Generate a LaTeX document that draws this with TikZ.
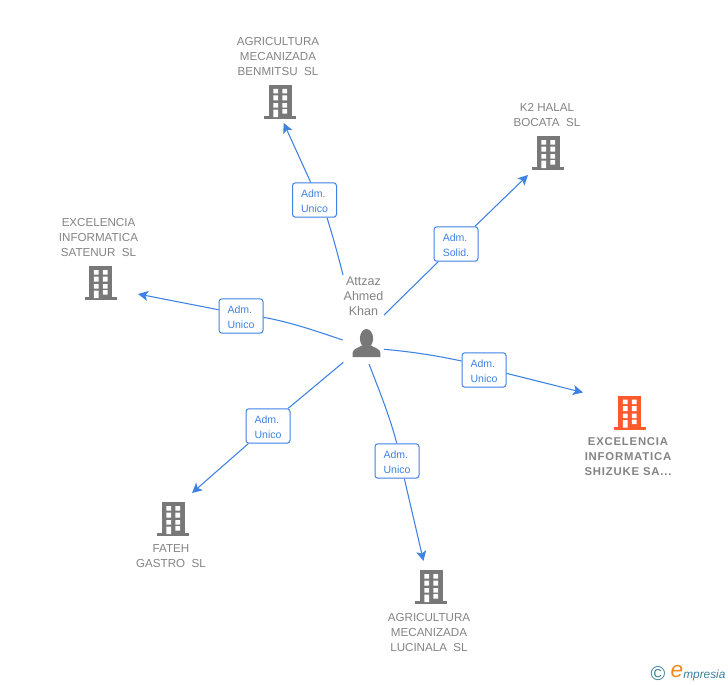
\documentclass[tikz,border=0pt]{standalone}
\usepackage{fontspec}
\setmainfont{Liberation Sans}
\usetikzlibrary{arrows.meta}
\definecolor{ico}{HTML}{787878}
\definecolor{txt}{HTML}{848484}
\definecolor{lnk}{HTML}{3E82E4}
\definecolor{org}{HTML}{FF5A2B}
\definecolor{logob}{HTML}{3F7F9A}
\definecolor{logoo}{HTML}{F08A1D}
\newcommand{\rolepush}{\rule{0pt}{7.2pt}}
\tikzset{
  x=0.75pt,y=-0.75pt,
  names/.style={font=\fontsize{8.7pt}{11.25pt}\selectfont,text=txt,align=center,inner sep=0pt},
  bold names/.style={names,font=\fontsize{8.5pt}{11.25pt}\selectfont\bfseries\addfontfeatures{LetterSpace=7}},
  person name/.style={names,font=\fontsize{9.4pt}{11.25pt}\selectfont},
  role/.style={draw=lnk,line width=0.75pt,rounded corners=2.2pt,fill=white,minimum width=33pt,minimum height=25.8pt,inner sep=0pt,
     font=\fontsize{7.9pt}{11.25pt}\selectfont,text=lnk,align=left},
  conn/.style={draw=lnk,line width=0.8pt},
  tipped/.style={conn,-{Stealth[length=7.5pt,width=7.5pt,inset=1.8pt]}},
  pics/tower/.style={code={
    \fill[#1] (-11.5,-16.5) rectangle (11.5,15.5);
    \fill[#1] (-16,14.5) rectangle (16,17.5) ;
    \fill[white] (-6.6,-12.5) rectangle (-1.8,-8)  (2.4,-12.5) rectangle (7.2,-8);
    \fill[white] (-6.6,-6) rectangle (-1.8,-1)  (2.4,-6) rectangle (7.2,-1);
    \fill[white] (-6.6,1.5) rectangle (-1.8,6)  (2.4,1.5) rectangle (7.2,6);
    \fill[white] (-6.6,8) rectangle (-1.8,15.5)  (2.4,7.5) rectangle (7.2,12);
  }}
}
\begin{document}
\begin{tikzpicture}
\useasboundingbox (0,0) rectangle (728,685);
\fill[white] (0,0) rectangle (728,685);

% company names
\node[names] (nb) at (278,57) {AGRICULTURA\\MECANIZADA\\BENMITSU\ \ SL};
\node[names] (nk) at (547,115.5) {K2 HALAL\\BOCATA\ \ SL};
\node[names] (ns) at (98.5,238) {EXCELENCIA\\INFORMATICA\\SATENUR\ \ SL};
\node[bold names] (nz) at (628,457) {EXCELENCIA\\INFORMATICA\\SHIZUKE SA...};
\node[names] (nf) at (171,556.5) {FATEH\\GASTRO\ \ SL};
\node[names] (nl) at (429,632) {AGRICULTURA\\MECANIZADA\\LUCINALA\ \ SL};
\node[person name] (np) at (363.5,296.5) {Attzaz\\Ahmed\\Khan};

% company icons
\pic at (280,101.5) {tower=ico};
\pic at (548,152.5) {tower=ico};
\pic at (100.5,282.5) {tower=ico};
\pic at (629.5,412) {tower=org};
\pic at (173,518.5) {tower=ico};
\pic at (431,586.5) {tower=ico};

% person icon
\fill[ico] (366.5,338.5) ellipse (6.6 and 9.5);
\fill[ico] (352.7,357) -- (352.7,352.5) .. controls (353,349) and (358,348) .. (362,345.5)
  -- (371,345.5) .. controls (375,348) and (380,349) .. (380.3,352.5) -- (380.3,357) -- cycle;

% role labels
\node[role] (lb) at (314.5,200) {\rolepush Adm.\\Unico};
\node[role] (lk) at (456,244) {\rolepush Adm.\\Solid.};
\node[role] (ls) at (241,316) {\rolepush Adm.\\Unico};
\node[role] (lz) at (484,370) {\rolepush Adm.\\Unico};
\node[role] (lf) at (268,426) {\rolepush Adm.\\Unico};
\node[role] (ll) at (397,461) {\rolepush Adm.\\Unico};

% connector ends
\coordinate (hb) at (343,275);
\coordinate (hk) at (384,315);
\coordinate (hs) at (342.7,340);
\coordinate (hz) at (384,349.3);
\coordinate (hf) at (343.3,362.3);
\coordinate (hl) at (369,364);
\coordinate (eb) at (283.7,123);
\coordinate (ek) at (528,175);
\coordinate (es) at (138,294);
\coordinate (ez) at (583,392.5);
\coordinate (ef) at (192,493);
\coordinate (el) at (423.5,561);

% connectors
\draw[conn] (hb) .. controls (338,255) and (333,237) .. ([xshift=9.4pt]lb.south);
\draw[tipped] ([xshift=-2.85pt]lb.north) -- (eb);
\draw[conn] (hk) -- ([xshift=-13.3pt]lk.south);
\draw[tipped] ([xshift=14.25pt]lk.north) -- (ek);
\draw[conn] (hs) .. controls (316,331) and (290,322) .. ([yshift=-1pt]ls.east);
\draw[tipped] ([yshift=4.7pt]ls.west) -- (es);
\draw[conn] (hz) .. controls (410,351.5) and (436,355.5) .. ([yshift=6.75pt]lz.west);
\draw[tipped] ([yshift=-2.5pt]lz.east) -- (ez);
\draw[conn] (hf) -- ([xshift=15.2pt]lf.north);
\draw[tipped] ([xshift=-14.8pt]lf.south) -- (ef);
\draw[conn] (hl) .. controls (379,390) and (390,417) .. ([xshift=-0.2pt]ll.north);
\draw[tipped] ([xshift=5.5pt]ll.south) -- (el);

% logo
\node[inner sep=0pt,text=logob,font=\fontsize{15pt}{15pt}\selectfont] (copyr) at (658,674) {©};
\node[inner sep=0pt,text=logoo,font=\fontsize{17pt}{17pt}\selectfont\itshape] (loge) at (677,671.5) {e};
\node[inner sep=0pt,text=logob,anchor=west,font=\fontsize{8.9pt}{10pt}\selectfont\itshape] (logm) at (683,675) {mpresia};
\end{tikzpicture}
\end{document}
